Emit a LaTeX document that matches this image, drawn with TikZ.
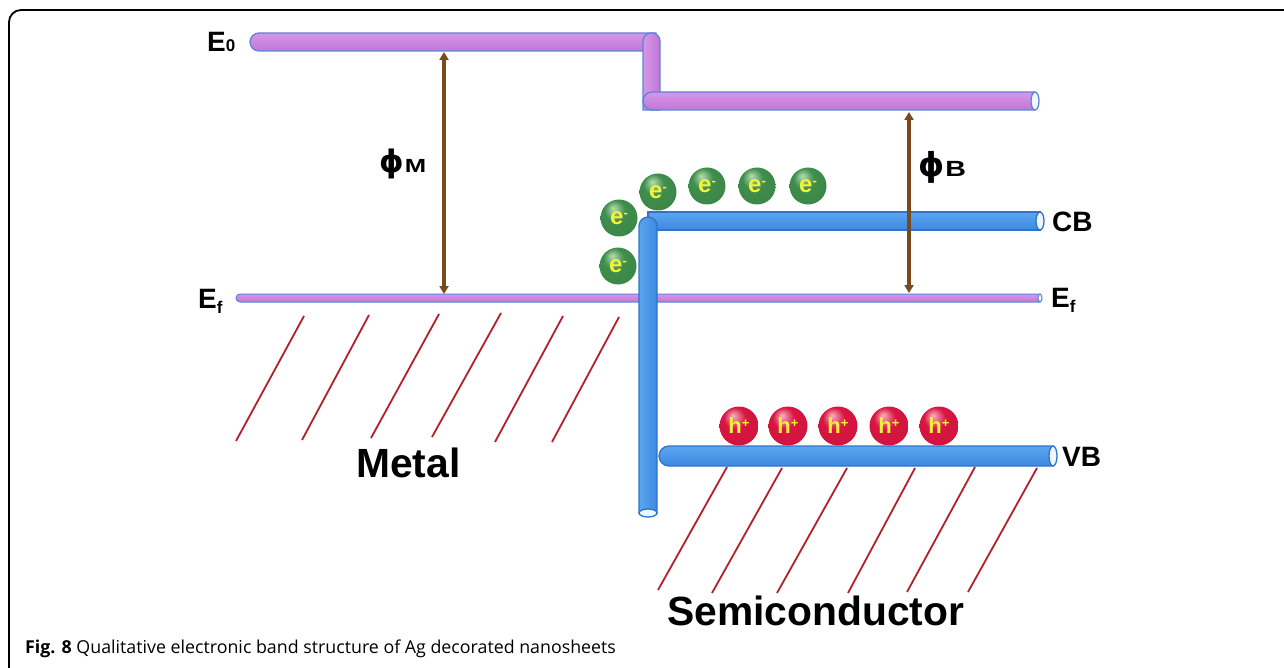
\documentclass[tikz,border=0pt]{standalone}
\usepackage{fontspec}
\setmainfont{Liberation Sans}
\newfontfamily\capfont{Open Sans}
\newfontfamily\phifont{DejaVu Sans}
\usetikzlibrary{arrows.meta}
\definecolor{pedge}{HTML}{5B86D6}
\definecolor{ptop}{HTML}{D697E8}
\definecolor{pmid}{HTML}{F0CCF6}
\definecolor{pbot}{HTML}{C077D7}
\definecolor{bedge}{HTML}{2F74C8}
\definecolor{btop}{HTML}{5CA5EF}
\definecolor{bmid}{HTML}{AAD6FB}
\definecolor{bbot}{HTML}{3C89E0}
\definecolor{endfill}{HTML}{EEF6FF}
\definecolor{arrowbrown}{HTML}{7A4A1F}
\definecolor{hatchred}{HTML}{B51F2A}
\definecolor{chargeyellow}{HTML}{F2F23A}
\definecolor{gHi}{HTML}{B4DDB0}
\definecolor{gMid}{HTML}{3F8E4D}
\definecolor{gOut}{HTML}{1F5529}
\definecolor{rHi}{HTML}{F8B0BE}
\definecolor{rMid}{HTML}{D81642}
\definecolor{rOut}{HTML}{960A24}
\pgfdeclareradialshading{greenball}{\pgfpoint{-8bp}{14bp}}{color(0bp)=(gHi); color(14bp)=(gMid); color(34bp)=(gMid!85!gOut); color(46bp)=(gOut); color(50bp)=(gOut)}
\pgfdeclareradialshading{redball}{\pgfpoint{-8bp}{14bp}}{color(0bp)=(rHi); color(14bp)=(rMid); color(34bp)=(rMid!85!rOut); color(46bp)=(rOut); color(50bp)=(rOut)}
\tikzset{
  ptube/.style={draw=pedge, line width=1.3pt, top color=ptop, middle color=pmid, bottom color=pbot},
  ptubev/.style={draw=pedge, line width=1.3pt, left color=ptop, middle color=pmid, right color=pbot},
  btube/.style={draw=bedge, line width=1.3pt, top color=btop, middle color=bmid, bottom color=bbot},
  btubev/.style={draw=bedge, line width=1.3pt, left color=btop, middle color=bmid, right color=bbot},
  pendcap/.style={draw=pedge, line width=1.3pt, fill=endfill},
  bendcap/.style={draw=bedge, line width=1.3pt, fill=endfill},
  hatch/.style={draw=hatchred, line width=1.8pt},
  gaparrow/.style={draw=arrowbrown, line width=4pt, {Triangle[length=8pt,width=9pt]}-{Triangle[length=8pt,width=9pt]}},
  elec/.style={circle, inner sep=0pt, minimum size=37pt, shade, shading=greenball, text=chargeyellow, font=\bfseries\fontsize{24}{24}\selectfont},
  hole/.style={circle, inner sep=0pt, minimum size=39pt, shade, shading=redball, text=chargeyellow, font=\bfseries\fontsize{22}{22}\selectfont},
  lbl/.style={inner sep=0pt, anchor=base west, font=\bfseries\fontsize{28}{28}\selectfont},
  big/.style={inner sep=0pt, anchor=base west, font=\bfseries\fontsize{40.8}{41}\selectfont},
}
\newcommand{\elminus}{\raisebox{7pt}{\fontsize{13}{13}\selectfont -}}
\newcommand{\hoplus}{\raisebox{6pt}{\fontsize{13}{13}\selectfont +}}
\begin{document}
\begin{tikzpicture}[x=1pt,y=-1pt]
\useasboundingbox (0,0) rectangle (1284,668);
% frame
\draw[line width=1.8pt, rounded corners=12pt] (9,668) -- (9,10) -- (1284,10);
% hatch: metal
\foreach \a/\b/\c/\d in {304/316/236/441, 369/315/302/440, 439/314/371/438, 501/313/432/437, 563/316/495/442, 619/317/552/442}
  \draw[hatch] (\a,\b) -- (\c,\d);
% hatch: semiconductor
\foreach \a/\b/\c/\d in {727/467/658/590, 782/468/712/593, 847/468/777/593, 915/468/848/593, 975/467/907/592, 1037/468/968/592}
  \draw[hatch] (\a,\b) -- (\c,\d);
% Fermi level
\path[ptube, line width=1pt] (1040,294) [rounded corners=4pt] -- (236,294) -- (236,302) [sharp corners] -- (1040,302) -- cycle;
\draw[pendcap, line width=1pt] (1040,298) ellipse [x radius=2, y radius=4];
% vacuum level (metal side)
\path[ptube] (656,33) [rounded corners=9pt] -- (250,33) -- (250,51) [sharp corners] -- (656,51) -- cycle;
\path[ptubev] (643,110) [rounded corners=8pt] -- (643,33) -- (660,33) [sharp corners] -- (660,110) -- cycle;
% vacuum level (semiconductor side)
\path[ptube] (1035,92) [rounded corners=9pt] -- (643,92) -- (643,110) [sharp corners] -- (1035,110) -- cycle;
\draw[pendcap] (1035,101) ellipse [x radius=4, y radius=9];
% conduction band
\path[btube] (1040,212) -- (648,212) -- (648,230) -- (1040,230) -- cycle;
\draw[bendcap] (1040,221) ellipse [x radius=4, y radius=9];
% band bending tube
\path[btubev] (639,513) [rounded corners=9pt] -- (639,217) -- (657,217) [sharp corners] -- (657,513) -- cycle;
\draw[bendcap] (648,513) ellipse [x radius=9, y radius=4];
% valence band
\path[btube] (1053,446) [rounded corners=10pt] -- (659,446) -- (659,466) [sharp corners] -- (1053,466) -- cycle;
\draw[bendcap] (1053,456) ellipse [x radius=4, y radius=10];
% barrier arrows
\coordinate (mtop) at (444,52);
\coordinate (mbot) at (444,294);
\coordinate (btop) at (909,112);
\coordinate (bbot) at (909,293);
\draw[gaparrow] (mtop) -- (mbot);
\draw[gaparrow] (btop) -- (bbot);
% electrons
\node[elec] (e1) at (619,218) {e\elminus};
\node[elec] (e2) at (658,192) {e\elminus};
\node[elec] (e3) at (707,186) {e\elminus};
\node[elec] (e4) at (757,186) {e\elminus};
\node[elec] (e5) at (808,186) {e\elminus};
\node[elec] (e6) at (618,266) {e\elminus};
% holes
\node[hole] (h1) at (739,426) {h\hoplus};
\node[hole] (h2) at (788,426) {h\hoplus};
\node[hole] (h3) at (838,426) {h\hoplus};
\node[hole] (h4) at (889,426) {h\hoplus};
\node[hole] (h5) at (939,426) {h\hoplus};
% labels
\node[lbl] (E0) at (207,52) {E{\fontsize{17}{17}\selectfont 0}};
\node[lbl] (EfL) at (198,308) {E\raisebox{-5pt}{\fontsize{17}{17}\selectfont f}};
\node[lbl] (EfR) at (1051,307) {E\raisebox{-5pt}{\fontsize{17}{17}\selectfont f}};
\node[lbl] (CB) at (1052,232) {CB};
\node[lbl] (VB) at (1062,466) {VB};
\node[inner sep=0pt, anchor=base west] (phiM) at (379,173) {{\phifont\bfseries\fontsize{31}{31}\selectfont ϕ}\hspace{1pt}\scalebox{1.35}[1]{\bfseries\fontsize{19}{19}\selectfont M}};
\node[inner sep=0pt, anchor=base west] (phiB) at (918,177) {{\phifont\bfseries\fontsize{33}{33}\selectfont ϕ}\hspace{1pt}\scalebox{1.3}[1]{\bfseries\fontsize{22}{22}\selectfont B}};
\node[big] (metal) at (356,477) {Metal};
\node[big] (semi) at (667,625) {Semiconductor};
\node[inner sep=0pt, anchor=base west] (caption) at (25,653) {\capfont\fontsize{17.8}{18}\selectfont\textbf{Fig. 8} Qualitative electronic band structure of Ag decorated nanosheets};
\end{tikzpicture}
\end{document}
